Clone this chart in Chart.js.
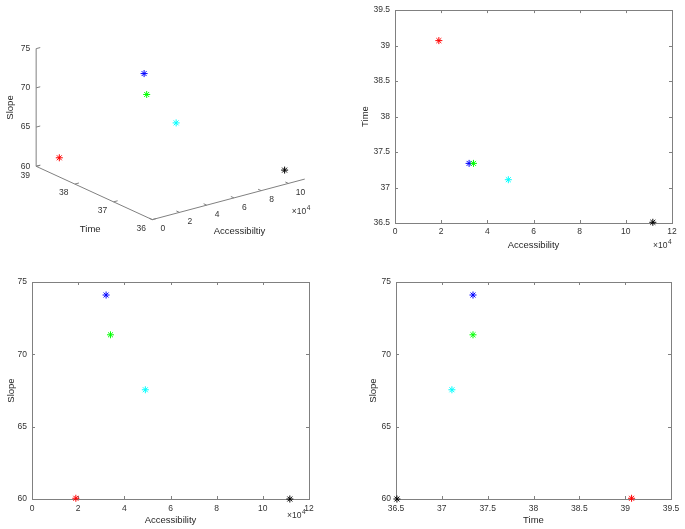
<!DOCTYPE html>
<html>
<head>
<meta charset="utf-8">
<script src="https://cdn.jsdelivr.net/npm/chart.js@4/dist/chart.umd.min.js"></script>
<style>
  body { margin: 0; background: #fff; }
  #wrap { position: relative; width: 685px; height: 529px; background: #fff; }
  .box { position: absolute; }
</style>
</head>
<body>
<div id="wrap">
  <div class="box" style="left:0;top:0;width:345px;height:265px"><canvas id="c3d"></canvas></div>
  <div class="box" style="left:345px;top:0;width:340px;height:265px"><canvas id="cAccTime"></canvas></div>
  <div class="box" style="left:0;top:265px;width:345px;height:264px"><canvas id="cAccSlope"></canvas></div>
  <div class="box" style="left:345px;top:265px;width:340px;height:264px"><canvas id="cTimeSlope"></canvas></div>
</div>
<script>
// one point per site, MATLAB colours r b g c k
const pointColors = ['#ff0000', '#0000ff', '#00ff00', '#00ffff', '#000000'];
const accessibility = [19000, 32100, 34000, 49100, 111700];
const time = [39.07, 37.34, 37.34, 37.11, 36.51];
const slope = [60.05, 74.1, 71.35, 67.55, 60.0];

// tick labels
const accTicks = [0, 20000, 40000, 60000, 80000, 100000, 120000];
const timeTicks = [36.5, 37, 37.5, 38, 38.5, 39, 39.5];
const slopeTicks = [60, 65, 70, 75];
const accTicks3d = [0, 20000, 40000, 60000, 80000, 100000];
const timeTicks3d = [36, 37, 38, 39];

const FONT = 'Liberation Sans, Arial, Helvetica, sans-serif';
const TICK_SIZE = 8.5;
const TITLE_SIZE = 9.5;
const AXIS_COLOR = '#808080';
const TEXT_COLOR = '#333333';

Chart.defaults.font.family = FONT;
Chart.defaults.animation = false;
Chart.defaults.responsive = true;
Chart.defaults.maintainAspectRatio = false;

// matlab style box with inward ticks on all 4 sides + optional x10^4 label
const matlabBox = {
  id: 'matlabBox',
  beforeDatasetsDraw(chart) {
    const { ctx, chartArea: a, scales } = chart;
    ctx.save();
    ctx.strokeStyle = AXIS_COLOR;
    ctx.lineWidth = 1;
    ctx.strokeRect(Math.round(a.left) + 0.5, Math.round(a.top) + 0.5,
      Math.round(a.right - a.left), Math.round(a.bottom - a.top));
    ctx.beginPath();
    scales.x.ticks.forEach(t => {
      const px = Math.round(scales.x.getPixelForValue(t.value)) + 0.5;
      ctx.moveTo(px, a.bottom); ctx.lineTo(px, a.bottom - 3);
      ctx.moveTo(px, a.top); ctx.lineTo(px, a.top + 3);
    });
    scales.y.ticks.forEach(t => {
      const py = Math.round(scales.y.getPixelForValue(t.value)) + 0.5;
      ctx.moveTo(a.left, py); ctx.lineTo(a.left + 3, py);
      ctx.moveTo(a.right, py); ctx.lineTo(a.right - 3, py);
    });
    ctx.stroke();
    const ex = chart.options.plugins.matlabBox && chart.options.plugins.matlabBox.exponent;
    if (ex) drawExponent(ctx, a.right + ex.dx, a.bottom + ex.dy);
    ctx.restore();
  }
};

function drawExponent(ctx, x, y) {
  ctx.save();
  ctx.fillStyle = TEXT_COLOR;
  ctx.textBaseline = 'middle';
  ctx.textAlign = 'left';
  ctx.font = TICK_SIZE + 'px ' + FONT;
  ctx.fillText('\u00d710', x, y);
  const w = ctx.measureText('\u00d710').width;
  ctx.font = (TICK_SIZE - 2) + 'px ' + FONT;
  ctx.fillText('4', x + w + 0.5, y - 4);
  ctx.restore();
}

function scatterData(xs, ys) {
  return xs.map((v, i) => ({ x: v, y: ys[i] }));
}

function dataset(points) {
  return {
    data: points,
    pointStyle: 'star',
    pointRadius: 3.5,
    pointHoverRadius: 3.5,
    pointBorderWidth: 1,
    pointBorderColor: pointColors,
    pointBackgroundColor: pointColors,
    showLine: false,
    clip: false
  };
}

function fmt(v) { return String(+v.toFixed(2)); }

function make2d(id, cfg) {
  return new Chart(document.getElementById(id), {
    type: 'scatter',
    data: { datasets: [dataset(scatterData(cfg.xs, cfg.ys))] },
    options: {
      layout: { padding: { left: 0, top: cfg.top, right: cfg.right, bottom: 0 } },
      plugins: {
        legend: { display: false },
        tooltip: { enabled: false },
        matlabBox: { exponent: cfg.exponent }
      },
      scales: {
        x: {
          type: 'linear',
          min: cfg.xTicks[0], max: cfg.xTicks[cfg.xTicks.length - 1],
          afterBuildTicks: s => { s.ticks = cfg.xTicks.map(v => ({ value: v })); },
          afterFit: s => { s.height = cfg.xHeight; },
          grid: { display: false, drawTicks: false },
          border: { display: false },
          ticks: {
            padding: cfg.xPad, maxRotation: 0, autoSkip: false,
            color: TEXT_COLOR, font: { size: TICK_SIZE },
            callback: cfg.xFmt
          },
          title: {
            display: true, text: cfg.xTitle, color: '#262626',
            font: { size: TITLE_SIZE }, padding: { top: 0, bottom: cfg.xTitlePad }
          }
        },
        y: {
          type: 'linear',
          min: cfg.yTicks[0], max: cfg.yTicks[cfg.yTicks.length - 1],
          afterBuildTicks: s => { s.ticks = cfg.yTicks.map(v => ({ value: v })); },
          afterFit: s => { s.width = cfg.yWidth; },
          grid: { display: false, drawTicks: false },
          border: { display: false },
          ticks: {
            padding: 5, autoSkip: false,
            color: TEXT_COLOR, font: { size: TICK_SIZE },
            callback: v => fmt(v)
          },
          title: {
            display: true, text: cfg.yTitle, color: '#262626',
            font: { size: TITLE_SIZE }, padding: { top: cfg.yTitlePad, bottom: 0 }
          }
        }
      }
    },
    plugins: [matlabBox]
  });
}

const accFmt = v => fmt(v / 10000);

make2d('cAccTime', {
  xs: accessibility, ys: time, xTicks: accTicks, yTicks: timeTicks,
  xTitle: 'Accessibility', yTitle: 'Time', xFmt: accFmt,
  top: 7, right: 13, xHeight: 42, yWidth: 50, xPad: 4, xTitlePad: 14, yTitlePad: 15,
  exponent: { dx: -19, dy: 23 }
});

make2d('cAccSlope', {
  xs: accessibility, ys: slope, xTicks: accTicks, yTicks: slopeTicks,
  xTitle: 'Accessibility', yTitle: 'Slope', xFmt: accFmt,
  top: 17, right: 36, xHeight: 30, yWidth: 32, xPad: 5, xTitlePad: 3, yTitlePad: 6,
  exponent: { dx: -22, dy: 17 }
});

make2d('cTimeSlope', {
  xs: time, ys: slope, xTicks: timeTicks, yTicks: slopeTicks,
  xTitle: 'Time', yTitle: 'Slope', xFmt: v => fmt(v),
  top: 17, right: 14, xHeight: 30, yWidth: 51, xPad: 5, xTitlePad: 3, yTitlePad: 23,
  exponent: null
});

// ---- 3D view (plot3), orthographic projection onto the canvas ----
const ACC_MAX_3D = 112000;
const corner = { x: 151.7, y: 222.7 };          // acc 0, time 36, slope 60
const accUnit = { x: 156.6 / ACC_MAX_3D, y: -42 / ACC_MAX_3D };
const timeUnit = { x: -119.2 / 3, y: -55.2 / 3 };
const slopeUnit = { x: 0, y: -121.8 / 15 };

function proj(a, t, s) {
  return {
    x: corner.x + a * accUnit.x + (t - 36) * timeUnit.x + (s - 60) * slopeUnit.x,
    y: corner.y + a * accUnit.y + (t - 36) * timeUnit.y + (s - 60) * slopeUnit.y
  };
}

const axes3d = {
  id: 'axes3d',
  beforeDatasetsDraw(chart) {
    const { ctx, scales } = chart;
    const P = p => ({ x: scales.x.getPixelForValue(p.x), y: scales.y.getPixelForValue(p.y) });
    const line = (p, q) => { ctx.moveTo(p.x, p.y); ctx.lineTo(q.x, q.y); };
    ctx.save();
    ctx.strokeStyle = AXIS_COLOR;
    ctx.lineWidth = 1;
    ctx.beginPath();
    // axis lines
    line(P(proj(0, 36, 60)), P(proj(ACC_MAX_3D, 36, 60)));
    line(P(proj(0, 36, 60)), P(proj(0, 39, 60)));
    line(P(proj(0, 39, 60)), P(proj(0, 39, 75)));
    // ticks
    timeTicks3d.forEach(t => line(P(proj(0, t, 60)), P(proj(3000, t, 60))));
    accTicks3d.forEach(a => line(P(proj(a, 36, 60)), P(proj(a, 36.08, 60))));
    slopeTicks.forEach(s => line(P(proj(0, 39, s)), P(proj(3000, 39, s))));
    ctx.stroke();

    ctx.fillStyle = TEXT_COLOR;
    ctx.font = TICK_SIZE + 'px ' + FONT;
    ctx.textBaseline = 'middle';
    ctx.textAlign = 'right';
    slopeTicks.forEach(s => {
      const p = P(proj(0, 39, s));
      ctx.fillText(String(s), p.x - 6, p.y);
    });
    ctx.textAlign = 'center';
    timeTicks3d.forEach(t => {
      const p = P(proj(0, t, 60));
      ctx.fillText(String(t), p.x - 11, p.y + 9);
    });
    accTicks3d.forEach(a => {
      const p = P(proj(a, 36, 60));
      ctx.fillText(String(a / 10000), p.x + (a >= 100000 ? 12 : 10.5), p.y + 9.5);
    });
    const e = P(proj(ACC_MAX_3D, 36, 60));
    drawExponent(ctx, e.x - 13, e.y + 33);

    ctx.fillStyle = '#262626';
    ctx.font = TITLE_SIZE + 'px ' + FONT;
    const tl = P(proj(0, 37.5, 60));
    ctx.fillText('Time', tl.x - 4, tl.y + 36);
    const al = P(proj(ACC_MAX_3D * 0.5, 36, 60));
    ctx.fillText('Accessibiltiy', al.x + 11, al.y + 32);
    const sl = P(proj(0, 39, 67.5));
    ctx.translate(sl.x - 25.5, sl.y);
    ctx.rotate(-Math.PI / 2);
    ctx.fillText('Slope', 0, 0);
    ctx.restore();
  }
};

new Chart(document.getElementById('c3d'), {
  type: 'scatter',
  data: {
    datasets: [dataset(accessibility.map((a, i) => proj(a, time[i], slope[i])))]
  },
  options: {
    layout: { padding: 0 },
    plugins: { legend: { display: false }, tooltip: { enabled: false } },
    scales: {
      x: { type: 'linear', min: 0, max: 345, display: false },
      y: { type: 'linear', min: 0, max: 265, reverse: true, display: false }
    }
  },
  plugins: [axes3d]
});
</script>
</body>
</html>
